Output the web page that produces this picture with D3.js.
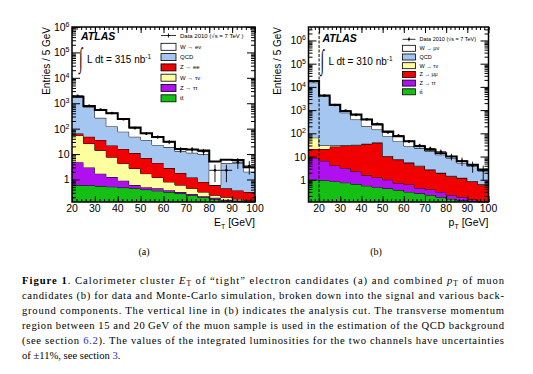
<!DOCTYPE html>
<html>
<head>
<meta charset="utf-8">
<script src="https://cdn.jsdelivr.net/npm/d3@7"></script>
<style>
  body { margin: 0; background: #fff; }
  svg { display: block; }
</style>
</head>
<body>
<svg id="fig" width="533" height="374"></svg>
<script>
// ---- electron channel (a): 5 GeV bins, low edges ----
const edgesE = [20, 25, 30, 35, 40, 45, 50, 55, 60, 65, 70, 75, 80, 85, 90, 95]
const ttE    = [0.6, 0.58, 0.55, 0.52, 0.48, 0.45, 0.4, 0.36, 0.32, 0.28, 0.24, 0.2, 0.17, 0.15, 0.14, 0.13]
const ztautauE = [4.2, 2.4, 1.15, 0.73, 0.42, 0.15, 0.1, 0.09, 0.06, 0.04, 0.03, 0.02, 0.02, 0.01, 0.01, 0.01]
const wtaunuE  = [50, 23, 12.3, 6.3, 3.4, 2.1, 1.2, 0.75, 0.42, 0.28, 0.18, 0.1, 0.05, 0.04, 0.02, 0.01]
const zeeE   = [10, 22, 22, 14.4, 11.7, 8.3, 5.3, 3.3, 2.0, 1.2, 0.75, 0.48, 0.36, 0.25, 0.2, 0.17]
const qcdE   = [1630, 650, 230, 100, 60, 37, 29, 18.5, 16, 11, 10, 9, 0, 4, 4, 1.7]
const wenuE  = [100, 80, 270, 280, 165, 62, 30, 24, 12, 3, 4, 4, 4.5, 1.5, 1.5, 1]
const dataE  = [1950, 800, 560, 410, 235, 105, 64, 47, 30, 15, 15, 12.5, 2.3, 2.3, 4.8, 3.4]

// ---- muon channel (b) ----
const edgesM = [15, 20, 25, 30, 35, 40, 45, 50, 55, 60, 65, 70, 75, 80, 85, 90, 95]
const ttM    = [1.0, 0.95, 0.85, 0.75, 0.65, 0.55, 0.48, 0.42, 0.36, 0.3, 0.26, 0.22, 0.18, 0.15, 0.13, 0.12, 0.11]
const ztautauM = [7.7, 5.6, 3.3, 2.4, 1.6, 1.0, 0.77, 0.58, 0.36, 0.32, 0.18, 0.16, 0.12, 0.07, 0.05, 0.02, 0.01]
const zmumuM = [12.3, 14.4, 22.8, 26.8, 28.7, 33.4, 37.8, 9.0, 6.6, 4.7, 3.4, 2.3, 1.65, 1.2, 1.0, 0.7, 0.5]
const wtaunuM  = [44, 9, 3, 1, 1, 1, 1, 0.5, 0.3, 0.2, 0.2, 0.1, 0.05, 0.05, 0.03, 0.02, 0.02]
const qcdM   = [15200, 3970, 1570, 740, 360, 165, 105, 65, 37, 22.5, 19, 14, 10, 7.2, 4.1, 2.9, 1.7]
const wmunuM = [2700, 300, 100, 130, 260, 190, 95, 45, 30, 17, 5, 3, 2, 1.3, 0.9, 0.7, 0.4]
const dataM  = [17500, 4200, 1650, 950, 620, 400, 260, 110, 80, 45, 30, 22, 16, 10, 6.5, 4, 2.5]

const xTicks = [20, 30, 40, 50, 60, 70, 80, 90, 100]
const decades = [1, 10, 100, 1e3, 1e4, 1e5, 1e6]

const colours = {
	w: "#ffffff",
	qcd: "#a4c6f0",
	z: "#f00000",
	wtau: "#ffffa0",
	ztau: "#b010f0",
	tt: "#13c013"
}

const sans = "'Liberation Sans', Arial, Helvetica, sans-serif"
const serif = "'Liberation Serif', 'Times New Roman', serif"
const fig = d3.select("#fig")

function panel(o) {
	let g = fig.append("g")
	let x = d3.scaleLinear().domain(o.xDomain).range([o.left, o.right])
	let y = d3.scaleLog().domain(o.yDomain).range([o.bottom, o.top]).clamp(true)
	let yv = v => y(Math.max(v, o.yDomain[0]))

	// Stack the components, bottom layer first
	let rows = o.edges.map((e, i) => {
		let r = { lo: e }
		o.layers.forEach(l => r[l.key] = l.values[i])
		return r
	})
	let series = d3.stack().keys(o.layers.map(l => l.key))(rows)

	let area = d3.area().x(p => p[0]).y0(p => p[1]).y1(p => p[2])
	let line = d3.line()
	series.forEach((s, li) => {
		let pts = s.flatMap(d => [
			[x(d.data.lo), yv(d[0]), yv(d[1])],
			[x(d.data.lo + 5), yv(d[0]), yv(d[1])]
		])
		g.append("path")
			.attr("d", area(pts))
			.attr("fill", o.layers[li].colour)
		let last = li === series.length - 1
		g.append("path")
			.attr("d", line(pts.map(p => [p[0], p[2]])))
			.attr("fill", "none")
			.attr("stroke", "#000")
			.attr("stroke-width", last ? 2 : 1)
	})

	// Data with statistical error bars
	let pts = g.append("g").selectAll("g").data(o.data.map((v, i) => ({ lo: o.edges[i], v })))
		.join("g")
	pts.append("line")
		.attr("x1", d => x(d.lo)).attr("x2", d => x(d.lo + 5))
		.attr("y1", d => y(d.v)).attr("y2", d => y(d.v))
		.attr("stroke", "#000").attr("stroke-width", 0.9)
	pts.append("line")
		.attr("x1", d => x(d.lo + 2.5)).attr("x2", d => x(d.lo + 2.5))
		.attr("y1", d => yv(d.v + Math.sqrt(d.v))).attr("y2", d => yv(d.v - Math.sqrt(d.v)))
		.attr("stroke", "#000").attr("stroke-width", 0.9)
	pts.append("circle")
		.attr("cx", d => x(d.lo + 2.5)).attr("cy", d => y(d.v)).attr("r", 1.3)

	if (o.cut)
		g.append("line")
			.attr("x1", x(o.cut)).attr("x2", x(o.cut))
			.attr("y1", o.top).attr("y2", o.bottom)
			.attr("stroke", "#000").attr("stroke-width", 1)
			.attr("stroke-dasharray", "3,1.5")

	// Ticks on all four sides, pointing inward
	let minorX = d3.range(Math.ceil(o.xDomain[0] / 2) * 2, o.xDomain[1] + 1, 2)
	let minorY = decades.flatMap(d => d3.range(2, 10).map(k => k * d))
		.concat([0.2, 0.3, 0.4, 0.5, 0.6, 0.7, 0.8, 0.9])
		.filter(v => v > o.yDomain[0] && v < o.yDomain[1])
	let ax = [
		[d3.axisBottom(x), o.bottom, xTicks, minorX, -6, -3],
		[d3.axisTop(x), o.top, xTicks, minorX, -6, -3]
	]
	ax.forEach(([a, pos, major, minor, big, small]) => {
		g.append("g").attr("transform", `translate(0,${pos})`)
			.call(a.tickValues(minor).tickSize(small).tickFormat(""))
		g.append("g").attr("transform", `translate(0,${pos})`)
			.call(a.tickValues(major).tickSize(big).tickFormat(""))
	})
	;[[d3.axisLeft(y), o.left], [d3.axisRight(y), o.right]].forEach(([a, pos]) => {
		g.append("g").attr("transform", `translate(${pos},0)`)
			.call(a.tickValues(minorY).tickSize(-4).tickFormat(""))
		g.append("g").attr("transform", `translate(${pos},0)`)
			.call(a.tickValues(decades.filter(v => v <= o.yDomain[1])).tickSize(-8).tickFormat(""))
	})
	g.selectAll(".domain").remove()
	g.selectAll(".tick line").attr("stroke", "#000").attr("stroke-width", 1)

	g.append("rect")
		.attr("x", o.left).attr("y", o.top)
		.attr("width", o.right - o.left).attr("height", o.bottom - o.top)
		.attr("fill", "none").attr("stroke", "#000").attr("stroke-width", 1.5)

	// Tick labels
	g.append("g").selectAll("text").data(xTicks).join("text")
		.attr("x", d => x(d)).attr("y", o.bottom + 10)
		.attr("text-anchor", "middle")
		.style("font", `10.5px ${sans}`)
		.text(d => d)
	let yl = g.append("g").selectAll("text").data(decades.filter(v => v <= o.yDomain[1])).join("text")
		.attr("x", o.left - 2.5).attr("y", d => y(d) + 4)
		.attr("text-anchor", "end")
		.style("font", `10.5px ${sans}`)
	yl.filter(d => d < 100).text(d => d)
	yl.filter(d => d >= 100).each(function(d) {
		let t = d3.select(this)
		t.append("tspan").text("10")
		t.append("tspan").attr("dy", -4).style("font-size", "7px").text(Math.round(Math.log10(d)))
	})

	// Axis titles
	g.append("text")
		.attr("transform", `translate(${o.yTitleX},${o.top}) rotate(-90)`)
		.attr("text-anchor", "end")
		.style("font", `10px ${sans}`)
		.text("Entries / 5 GeV")
	let xt = g.append("text")
		.attr("x", o.right).attr("y", o.bottom + 24)
		.attr("text-anchor", "end")
		.style("font", `10.5px ${sans}`)
	xt.append("tspan").text(o.xVar)
	xt.append("tspan").attr("dy", 2.5).style("font-size", "7px").text("T")
	xt.append("tspan").attr("dy", -2.5).text(" [GeV]")

	// ATLAS label and luminosity
	g.append("text")
		.attr("x", o.left + o.atlasDx).attr("y", o.top + o.atlasDy)
		.style("font", `italic bold 10.5px ${sans}`)
		.text("ATLAS")
	g.append("text")
		.attr("transform", `translate(${o.left + o.atlasDx - 2},${o.top + o.lumDy + 4}) scale(0.8,1.75)`)
		.style("font", `16px ${serif}`)
		.text("\u222B")
	let lum = g.append("text")
		.attr("x", o.left + o.atlasDx + 6).attr("y", o.top + o.lumDy)
		.style("font", `10px ${sans}`)
	lum.append("tspan").text(`L dt = ${o.lumi} nb`)
	lum.append("tspan").attr("dy", -4).style("font-size", "6.5px").text("-1")

	// Legend
	let lg = g.append("g").style("font", `${o.legFont}px ${sans}`)
	let L = o.legend
	lg.append("line")
		.attr("x1", L.x).attr("x2", L.x + L.w)
		.attr("y1", L.y0).attr("y2", L.y0)
		.attr("stroke", "#000").attr("stroke-width", 0.8)
	lg.append("line")
		.attr("x1", L.x + L.w / 2).attr("x2", L.x + L.w / 2)
		.attr("y1", L.y0 - 2).attr("y2", L.y0 + 2)
		.attr("stroke", "#000").attr("stroke-width", 0.8)
	lg.append("circle").attr("cx", L.x + L.w / 2).attr("cy", L.y0).attr("r", 1)
	lg.append("text").attr("x", L.x + L.w + 4).attr("y", L.y0 + 2)
		.text("Data 2010 (\u221As = 7 TeV" + o.dataSuffix)
	let entries = lg.selectAll("g.entry").data(o.legendOrder).join("g").attr("class", "entry")
		.attr("transform", (d, i) => `translate(${L.x},${L.y1 + i * L.dy})`)
	entries.append("rect")
		.attr("x", 0).attr("y", -L.h / 2).attr("width", L.w).attr("height", L.h)
		.attr("fill", d => d.colour).attr("stroke", "#000").attr("stroke-width", 0.8)
	entries.append("text").attr("x", L.w + 4).attr("y", 2).text(d => d.name)
}

const layersE = [
	{ key: "tt", name: "tt\u0304", colour: colours.tt, values: ttE },
	{ key: "ztau", name: "Z \u2192 \u03C4\u03C4", colour: colours.ztau, values: ztautauE },
	{ key: "wtau", name: "W \u2192 \u03C4\u03BD", colour: colours.wtau, values: wtaunuE },
	{ key: "z", name: "Z \u2192 ee", colour: colours.z, values: zeeE },
	{ key: "qcd", name: "QCD", colour: colours.qcd, values: qcdE },
	{ key: "w", name: "W \u2192 e\u03BD", colour: colours.w, values: wenuE }
]
const layersM = [
	{ key: "tt", name: "tt\u0304", colour: colours.tt, values: ttM },
	{ key: "ztau", name: "Z \u2192 \u03C4\u03C4", colour: colours.ztau, values: ztautauM },
	{ key: "z", name: "Z \u2192 \u03BC\u03BC", colour: colours.z, values: zmumuM },
	{ key: "wtau", name: "W \u2192 \u03C4\u03BD", colour: colours.wtau, values: wtaunuM },
	{ key: "qcd", name: "QCD", colour: colours.qcd, values: qcdM },
	{ key: "w", name: "W \u2192 \u03BC\u03BD", colour: colours.w, values: wmunuM }
]
const byKey = (ls, keys) => keys.map(k => ls.find(l => l.key === k))

panel({
	left: 72, right: 255, top: 27, bottom: 202,
	xDomain: [20, 100], yDomain: [0.13, 1e6],
	edges: edgesE, layers: layersE, data: dataE,
	legendOrder: byKey(layersE, ["w", "qcd", "z", "wtau", "ztau", "tt"]),
	legend: { x: 161, w: 15, h: 7, y0: 35.5, y1: 46.8, dy: 10.3 },
	legFont: 6, dataSuffix: " )",
	yTitleX: 50, xVar: "E", lumi: 315,
	atlasDx: 9, atlasDy: 13, lumDy: 36
})
panel({
	left: 308.5, right: 488.5, top: 27, bottom: 202,
	xDomain: [15, 100], yDomain: [0.11, 3.8e6],
	edges: edgesM, layers: layersM, data: dataM, cut: 20,
	legendOrder: byKey(layersM, ["w", "qcd", "wtau", "z", "ztau", "tt"]),
	legend: { x: 402.5, w: 13, h: 6, y0: 39.3, y1: 48.3, dy: 8.7 },
	legFont: 5.5, dataSuffix: ")",
	yTitleX: 281, xVar: "p", lumi: 310,
	atlasDx: 14, atlasDy: 15, lumDy: 38
})

// Sub-figure labels
fig.append("g").style("font", `10px ${serif}`).selectAll("text")
	.data([["(a)", 144], ["(b)", 376]]).join("text")
	.attr("x", d => d[1]).attr("y", 255).attr("text-anchor", "middle")
	.text(d => d[0])

// Caption, justified line by line
const captionLines = [
	[["b", "Figure 1"], ["", ". Calorimeter cluster "], ["i", "E"], ["s", "T"], ["", " of \u201Ctight\u201D electron candidates (a) and combined "], ["i", "p"], ["s", "T"], ["", " of muon"]],
	[["", "candidates (b) for data and Monte-Carlo simulation, broken down into the signal and various back-"]],
	[["", "ground components. The vertical line in (b) indicates the analysis cut. The transverse momentum"]],
	[["", "region between 15 and 20\u2009GeV of the muon sample is used in the estimation of the QCD background"]],
	[["", "(see section "], ["l", "6.2"], ["", "). The values of the integrated luminosities for the two channels have uncertainties"]],
	[["", "of \u00B111%, see section "], ["l", "3"], ["", "."]]
]
const cap = fig.append("g").style("font", `10.6px ${serif}`)
captionLines.forEach((parts, i) => {
	let t = cap.append("text").attr("x", 22).attr("y", 283.5 + i * 15)
	if (i < captionLines.length - 1)
		t.attr("textLength", 482).attr("lengthAdjust", "spacing")
	let shift = 0
	parts.forEach(([kind, s]) => {
		let sp = t.append("tspan").text(s)
		if (kind === "b") sp.style("font-weight", "bold")
		if (kind === "i") sp.style("font-style", "italic")
		if (kind === "l") sp.attr("fill", "#2b2bd0")
		if (kind === "s") {
			sp.attr("dy", 2).style("font-size", "7.5px")
			shift = 2
		} else if (shift) {
			sp.attr("dy", -shift)
			shift = 0
		}
	})
})
</script>
</body>
</html>
